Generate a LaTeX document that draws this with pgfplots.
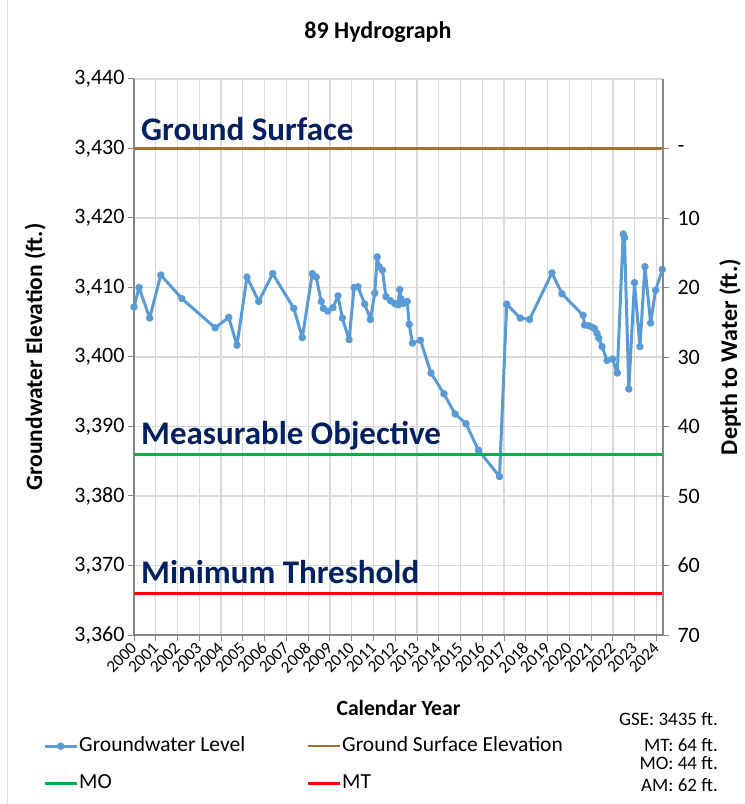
\documentclass[border=0pt]{standalone}
\usepackage{pgfplots}
\pgfplotsset{compat=1.18}
\usepackage{fontspec}
\setmainfont{Carlito}
\definecolor{gwblue}{HTML}{5B9BD5}
\definecolor{gsbrown}{HTML}{A5702F}
\definecolor{mogreen}{HTML}{00B050}
\definecolor{mtred}{HTML}{FF0000}
\definecolor{navy}{HTML}{002060}
\definecolor{gridc}{HTML}{D9D9D9}
\definecolor{axc}{HTML}{868686}
\newcommand{\fs}[1]{\fontsize{#1bp}{#1bp}\selectfont}
\begin{document}
\begin{tikzpicture}
\useasboundingbox (0,0) rectangle (745bp,804bp);
\draw[gridc, line width=1bp] (7bp,0) -- (7bp,804bp);
\begin{axis}[
  name=main,
  at={(134bp,169bp)}, anchor=south west,
  scale only axis, width=529bp, height=556bp,
  xmin=2000, xmax=2024.3, ymin=3360, ymax=3440,
  xtick={2000,2001,...,2024}, ytick={3360,3370,...,3440},
  axis x line*=bottom, axis y line*=left,
  axis line style={axc, line width=1.2bp},
  tick style={axc, line width=1bp}, major tick length=6bp, tick align=outside,
  grid=major, grid style={gridc, line width=1.2bp},
  /pgf/number format/assume math mode=true,
  yticklabel style={font=\fs{22}, /pgf/number format/1000 sep={,}},
  xticklabel style={font=\fs{17}, rotate=45, anchor=east, yshift=-3bp, /pgf/number format/1000 sep={}},
  ylabel={Groundwater Elevation (ft.)},
  ylabel style={font=\bfseries\fs{23.5}, at={(axis description cs:-0.187,0.5)}, anchor=center},
  xlabel={Calendar Year},
  xlabel style={font=\bfseries\fs{21.7}, at={(axis description cs:0.5,-0.131)}, anchor=center},
  title={89 Hydrograph},
  title style={font=\bfseries\fs{24}, at={(axis description cs:0.461,1.0737)}, anchor=center},
  clip mode=individual,
  legend columns=2,
  legend cell align=left,
  legend style={at={(axis description cs:-0.172,-0.1817)}, anchor=north west, draw=none, fill=none,
    inner sep=0pt, font=\fs{21.5}, row sep=17bp,
    nodes={inner sep=1bp, text height=14bp, text depth=4bp}},
  legend image code/.code={\draw[#1, mark repeat=2, mark phase=2] plot coordinates {(0bp,0bp) (16bp,0bp) (32bp,0bp)};},
]
\addplot[gwblue, line width=3bp, line join=round, mark=*, mark size=2.2bp, mark options={solid}] coordinates {
(2000.0,3407.2) (2000.23,3410.0) (2000.72,3405.6) (2001.23,3411.8) (2002.2,3408.4)
(2003.73,3404.2) (2004.35,3405.7) (2004.73,3401.7) (2005.19,3411.5) (2005.73,3408.0)
(2006.37,3412.0) (2007.34,3407.0) (2007.73,3402.8) (2008.19,3412.0) (2008.37,3411.5)
(2008.6,3408.0) (2008.7,3407.0) (2008.9,3406.6) (2009.14,3407.1) (2009.37,3408.8)
(2009.57,3405.6) (2009.88,3402.5) (2010.11,3410.0) (2010.29,3410.1) (2010.6,3407.6)
(2010.86,3405.4) (2011.06,3409.2) (2011.17,3414.4) (2011.26,3413.0) (2011.41,3412.5)
(2011.57,3408.7) (2011.78,3408.1) (2011.98,3407.7) (2012.13,3407.5) (2012.21,3409.7)
(2012.26,3408.4) (2012.36,3407.7) (2012.55,3408.0) (2012.64,3404.7) (2012.79,3402.0)
(2013.16,3402.4) (2013.64,3397.7) (2014.24,3394.7) (2014.75,3391.8) (2015.25,3390.4)
(2015.82,3386.6) (2016.79,3382.8) (2017.12,3407.6) (2017.74,3405.6) (2018.17,3405.4)
(2019.2,3412.1) (2019.66,3409.1) (2020.63,3406.0) (2020.7,3404.6) (2020.89,3404.5)
(2021.04,3404.3) (2021.15,3404.1) (2021.27,3403.4) (2021.35,3402.7) (2021.5,3401.5)
(2021.73,3399.5) (2021.98,3399.7) (2022.2,3397.7) (2022.47,3417.7) (2022.53,3417.2)
(2022.73,3395.4) (2022.99,3410.7) (2023.24,3401.5) (2023.47,3413.0) (2023.73,3404.9)
(2023.96,3409.6) (2024.27,3412.6)
};
\addlegendentry{\makebox[226bp][l]{Groundwater Level}}
\addplot[gsbrown, line width=2.5bp] coordinates {(2000,3430) (2024.3,3430)};
\addlegendentry{Ground Surface Elevation}
\addplot[mogreen, line width=3bp] coordinates {(2000,3386) (2024.3,3386)};
\addlegendentry{\makebox[226bp][l]{MO}}
\addplot[mtred, line width=3bp] coordinates {(2000,3366) (2024.3,3366)};
\addlegendentry{MT}
\node[anchor=base west, inner sep=0, font=\bfseries\fs{33}, text=navy] at (axis cs:2000.32,3431.2) {Ground Surface};
\node[anchor=base west, inner sep=0, font=\bfseries\fs{33}, text=navy] at (axis cs:2000.32,3387.4) {Measurable Objective};
\node[anchor=base west, inner sep=0, font=\bfseries\fs{33}, text=navy] at (axis cs:2000.32,3367.4) {Minimum Threshold};
\node[anchor=east, inner sep=0, font=\fs{19}] at (axis description cs:1.104,-0.151) {GSE: 3435 ft.};
\node[anchor=east, inner sep=0, font=\fs{19}] at (axis description cs:1.104,-0.198) {MT: 64 ft.};
\node[anchor=east, inner sep=0, font=\fs{19}] at (axis description cs:1.104,-0.230) {MO: 44 ft.};
\node[anchor=east, inner sep=0, font=\fs{19}] at (axis description cs:1.104,-0.270) {AM: 62 ft.};
\end{axis}
\begin{axis}[
  at={(134bp,169bp)}, anchor=south west,
  scale only axis, width=529bp, height=556bp,
  xmin=2000, xmax=2024.3, ymin=-10, ymax=70, y dir=reverse,
  axis x line=none, axis y line*=right,
  axis line style={axc, line width=1.2bp},
  tick style={axc, line width=1bp}, major tick length=6bp, tick align=outside,
  ytick={0,10,...,70}, yticklabels={-,10,20,30,40,50,60,70},
  yticklabel style={font=\fs{22}, xshift=5bp},
  ylabel={Depth to Water (ft.)},
  ylabel style={font=\bfseries\fs{24}, at={(axis description cs:1.127,0.5)}, anchor=center, rotate=0},
]
\addplot[draw=none, forget plot] coordinates {(2000,0) (2024,70)};
\end{axis}
\end{tikzpicture}
\end{document}
